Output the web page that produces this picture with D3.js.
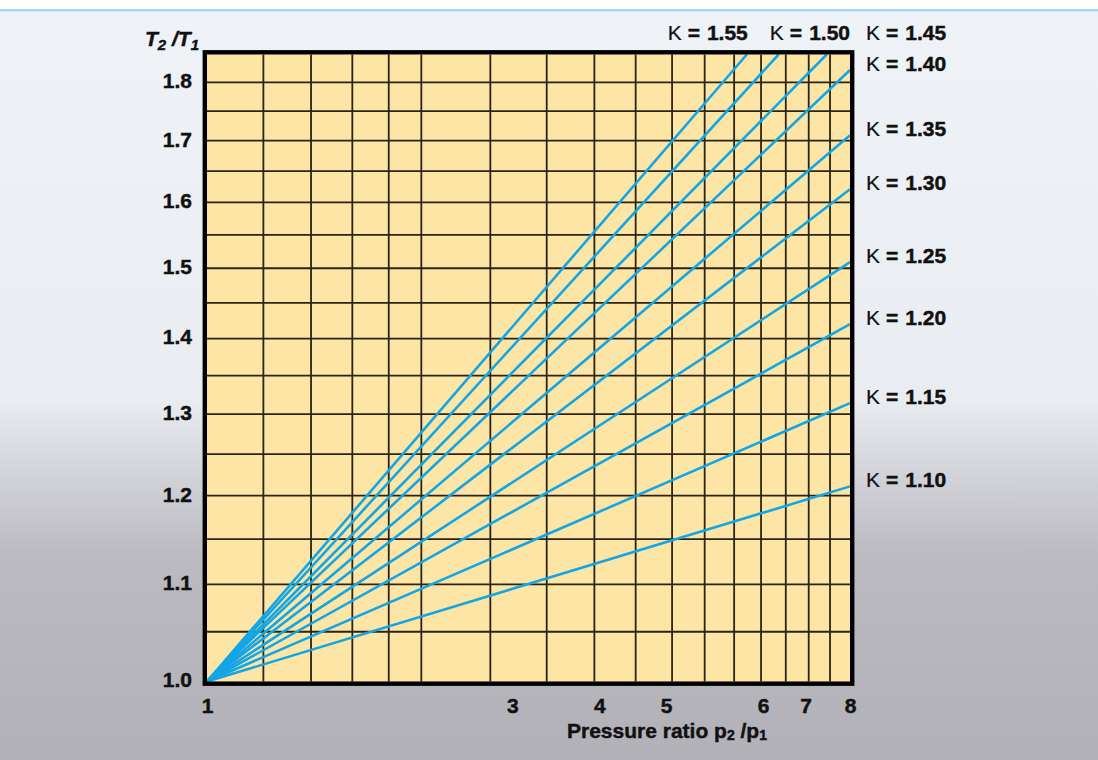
<!DOCTYPE html>
<html>
<head>
<meta charset="utf-8">
<script src="https://cdn.jsdelivr.net/npm/d3@7"></script>
<style>
  html, body { margin: 0; padding: 0; background: #fff; }
  svg { display: block; }
  text { font-family: "Liberation Sans", Arial, Helvetica, sans-serif; fill: #111; }
  .heavy { stroke: #111; stroke-width: 0.45px; }
</style>
</head>
<body>
<svg id="chart" width="1098" height="760"></svg>
<script>
// ---- data ----
const kappas = ["1.10", "1.15", "1.20", "1.25", "1.30", "1.35", "1.40", "1.45", "1.50", "1.55"];
// every curve starts at p2/p1 = 1, T2/T1 = 1 and ends at the point below
const startP = 1, startT = 1;
const endP = [8, 8, 8, 8, 8, 8, 8, 7.42, 6.35, 5.73];
const endT = [1.211, 1.314, 1.420, 1.509, 1.621, 1.709, 1.822, 1.85, 1.85, 1.85];

const xDomain = [1, 8];
const yDomain = [1, 1.85];
const xGrid = [1.2, 1.4, 1.6, 1.8, 2, 2.5, 3, 3.5, 4, 4.5, 5, 5.5, 6, 6.5, 7, 7.5];
const yGrid = [1.05, 1.10, 1.15, 1.20, 1.25, 1.30, 1.35, 1.40, 1.45, 1.50, 1.55, 1.60, 1.65, 1.70, 1.75, 1.80];
const yTicks = [1.0, 1.1, 1.2, 1.3, 1.4, 1.5, 1.6, 1.7, 1.8];
const xTickText = ["1", "3", "4", "5", "6", "7", "8"];
const xTickAt = [1, 2.684, 3.557, 4.413, 6.04, 6.93, 8];   // where the reference prints them

// ---- layout ----
const W = 1098, H = 760;
const plot = { left: 207, right: 850, top: 54.5, bottom: 681.5 };
const FS = 21;
const svg = d3.select("#chart");

const x = d3.scaleLog().domain(xDomain).range([plot.left, plot.right]);
const y = d3.scaleLog().domain(yDomain).range([plot.bottom, plot.top]);

// background
const defs = svg.append("defs");
const grad = defs.append("linearGradient").attr("id", "bg").attr("x1", 0).attr("y1", 0).attr("x2", 0).attr("y2", 1);
[[0, "#eff2f7"], [0.52, "#e9ecf1"], [0.62, "#d2d3d9"], [0.73, "#babac0"], [1, "#b2b1b7"]]
  .forEach(([o, c]) => grad.append("stop").attr("offset", o).attr("stop-color", c));
svg.append("rect").attr("x", 0).attr("y", 0).attr("width", W).attr("height", H).attr("fill", "#fff");
svg.append("rect").attr("x", 0).attr("y", 11).attr("width", W).attr("height", H - 11).attr("fill", "url(#bg)");
svg.append("rect").attr("x", 0).attr("y", 9).attr("width", W).attr("height", 2.5).attr("fill", "#a6d7f1");

// plot area
svg.append("rect")
  .attr("x", plot.left).attr("y", plot.top)
  .attr("width", plot.right - plot.left).attr("height", plot.bottom - plot.top)
  .attr("fill", "#fde5a6");

// grid
const grid = svg.append("g").attr("stroke", "#2b2416").attr("stroke-width", 1.8);
grid.selectAll("line.v").data(xGrid).join("line")
  .attr("x1", d => x(d)).attr("x2", d => x(d))
  .attr("y1", plot.top).attr("y2", plot.bottom);
grid.selectAll("line.h").data(yGrid).join("line")
  .attr("y1", d => y(d)).attr("y2", d => y(d))
  .attr("x1", plot.left).attr("x2", plot.right);

// curves
const series = kappas.map((k, i) => ({ k, pts: [[startP, startT], [endP[i], endT[i]]] }));
const line = d3.line().x(d => x(d[0])).y(d => y(d[1]));
svg.append("g").selectAll("path").data(series).join("path")
  .attr("d", d => line(d.pts))
  .attr("fill", "none").attr("stroke", "#13a6e6").attr("stroke-width", 2.6)
  .attr("stroke-linecap", "butt");

// frame
svg.append("rect")
  .attr("x", plot.left - 2.2).attr("y", plot.top - 2.2)
  .attr("width", plot.right - plot.left + 4.4).attr("height", plot.bottom - plot.top + 4.4)
  .attr("fill", "none").attr("stroke", "#000").attr("stroke-width", 4.4);

// axes (D3 axes, styled to look like the reference labels)
const yAxis = d3.axisLeft(y).tickValues(yTicks).tickFormat(d3.format(".1f")).tickSize(0).tickPadding(0);
const ya = svg.append("g").attr("transform", `translate(${plot.left - 15},0)`).call(yAxis);
ya.select(".domain").remove();
ya.selectAll("text").attr("class", "heavy").attr("font-size", FS).attr("font-weight", "bold")
  .attr("font-family", "Liberation Sans, Arial, sans-serif").attr("fill", "#111")
  .attr("dy", "0.35em").attr("transform", "translate(0,-2)");

const xAxis = d3.axisBottom(x).tickValues(xTickAt).tickFormat((d, i) => xTickText[i]).tickSize(0).tickPadding(0);
const xa = svg.append("g").attr("transform", `translate(0,${plot.bottom})`).call(xAxis);
xa.select(".domain").remove();
xa.selectAll("text").attr("class", "heavy").attr("font-size", FS).attr("font-weight", "bold")
  .attr("font-family", "Liberation Sans, Arial, sans-serif").attr("fill", "#111")
  .attr("dy", null).attr("y", 31.5);

// axis titles
const yt = svg.append("text").attr("class", "heavy").attr("x", 199).attr("y", 46).attr("text-anchor", "end")
  .attr("font-size", 21).attr("font-style", "italic").attr("font-weight", "bold");
yt.append("tspan").text("T");
yt.append("tspan").attr("font-size", 15).attr("dy", 4).text("2");
yt.append("tspan").attr("dy", -4).text(" /T");
yt.append("tspan").attr("font-size", 15).attr("dy", 4).text("1");

const xt = svg.append("text").attr("class", "heavy").attr("x", 567).attr("y", 737.5)
  .attr("font-size", FS).attr("font-weight", "bold");
xt.append("tspan").text("Pressure ratio p");
xt.append("tspan").attr("font-size", 14).attr("dy", 2).text("2");
xt.append("tspan").attr("dy", -2).text(" /p");
xt.append("tspan").attr("font-size", 14).attr("dy", 2).text("1");

// curve labels
function kLabel(sel) {
  sel.append("tspan").attr("font-weight", "normal").attr("font-size", 21).attr("stroke-width", 0.2).text("Κ");
  sel.append("tspan").attr("dx", 6).attr("font-weight", "bold").text("=");
  sel.append("tspan").attr("dx", 7).attr("font-weight", "bold").text(d => d.k);
}
const labelX = plot.right + 16;
const labels = svg.append("g").attr("font-size", FS);
series.forEach((s, i) => {
  const t = labels.append("text").attr("class", "heavy").datum(s);
  const ex = endP[i], ey = endT[i];
  if (ey < yDomain[1]) {
    t.attr("x", labelX).attr("y", y(ey) + 0.5);
  } else if (s.k === "1.45") {
    t.attr("x", labelX).attr("y", 39.5);
  } else if (s.k === "1.50") {
    t.attr("x", plot.right).attr("y", 39.5).attr("text-anchor", "end");
  } else {
    t.attr("x", x(ex) + 1).attr("y", 39.5).attr("text-anchor", "end");
  }
  kLabel(t);
});
</script>
</body>
</html>
